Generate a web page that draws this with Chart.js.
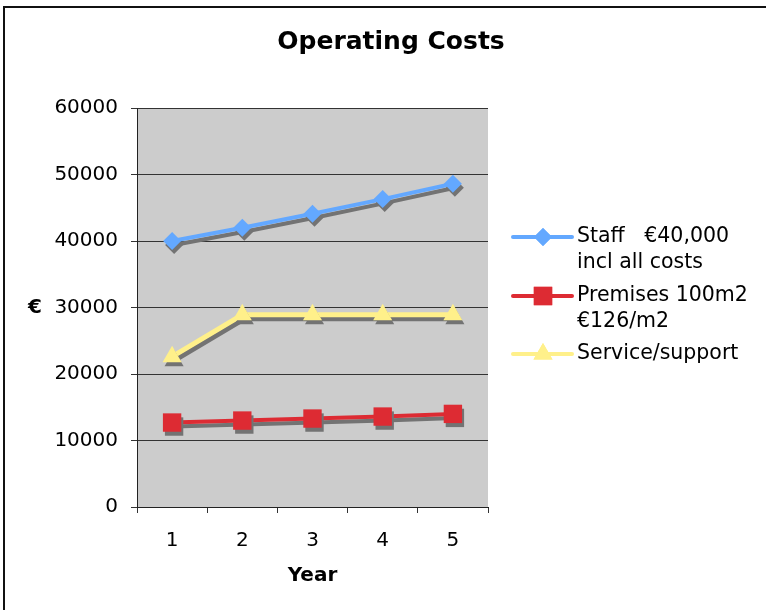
<!DOCTYPE html>
<html>
<head>
<meta charset="utf-8">
<title>Operating Costs</title>
<script src="https://cdn.jsdelivr.net/npm/chart.js@4/dist/chart.umd.min.js"></script>
<style>
  html, body { margin: 0; padding: 0; background: #fff; overflow: hidden; }
  #frame {
    position: absolute; left: 3px; top: 6px; width: 900px; height: 800px;
    border-left: 2px solid #111; border-top: 2px solid #111;
  }
  #chartBox { position: absolute; left: 0; top: 0; width: 766px; height: 610px; }
</style>
</head>
<body>
<div id="frame"></div>
<div id="chartBox"><canvas id="costChart" width="766" height="610"></canvas></div>
<script>
// Chart data
const years = ['1', '2', '3', '4', '5'];
const staffCosts = [40000, 42000, 44100, 46300, 48600];
const premisesCosts = [12700, 13000, 13300, 13600, 14000];
const serviceCosts = [22600, 28900, 28900, 28900, 28900];
const yTicks = [0, 10000, 20000, 30000, 40000, 50000, 60000];
const chartTitle = 'Operating Costs';
const legendLines = [
    ['Staff   €40,000', 'incl all costs'],
    ['Premises 100m2', '€126/m2'],
    ['Service/support']
];

const FONT = "'DejaVu Sans', Verdana, sans-serif";

// grey plot area behind everything
const plotBackground = {
    id: 'plotBackground',
    beforeDraw(chart) {
        const { ctx, chartArea } = chart;
        ctx.save();
        ctx.fillStyle = '#cccccc';
        ctx.fillRect(chartArea.left, chartArea.top, chartArea.right - chartArea.left, chartArea.bottom - chartArea.top);
        ctx.restore();
    }
};

// Excel style drop shadow under the series
const seriesShadow = {
    id: 'seriesShadow',
    beforeDatasetDraw(chart) {
        const ctx = chart.ctx;
        ctx.save();
        ctx.shadowColor = 'rgba(115, 115, 115, 1)';
        ctx.shadowOffsetX = 2;
        ctx.shadowOffsetY = 4;
        ctx.shadowBlur = 0;
    },
    afterDatasetDraw(chart) {
        chart.ctx.restore();
    }
};

// title over the whole frame, legend with wrapped text, "€" axis label
const sideLegend = {
    id: 'sideLegend',
    afterDraw(chart) {
        const { ctx, chartArea } = chart;
        ctx.save();
        ctx.fillStyle = '#000';
        ctx.textAlign = 'center';
        ctx.textBaseline = 'middle';
        ctx.font = 'bold 25px ' + FONT;
        ctx.fillText(chartTitle, 391, 42);

        ctx.font = 'bold 20px ' + FONT;
        ctx.fillText('€', 35, (chartArea.top + chartArea.bottom) / 2);

        const x0 = chartArea.right + 25;
        const itemY = [chartArea.top + 129, chartArea.top + 188, chartArea.top + 246];
        chart.data.datasets.forEach((ds, i) => {
            const y = itemY[i];
            ctx.strokeStyle = ds.borderColor;
            ctx.lineWidth = 4;
            ctx.lineCap = 'round';
            ctx.beginPath();
            ctx.moveTo(x0, y);
            ctx.lineTo(x0 + 59, y);
            ctx.stroke();
            ctx.fillStyle = ds.pointBackgroundColor;
            Chart.helpers.drawPoint(ctx, {
                pointStyle: ds.pointStyle, radius: ds.pointRadius, rotation: 0, borderWidth: 0
            }, x0 + 30, y);
            ctx.fill();

            ctx.fillStyle = '#000';
            ctx.font = '20.5px ' + FONT;
            ctx.textAlign = 'left';
            ctx.textBaseline = 'middle';
            legendLines[i].forEach((line, k) => {
                ctx.fillText(line, x0 + 64, y + k * 26);
            });
        });
        ctx.restore();
    }
};

const ctx = document.getElementById('costChart').getContext('2d');
new Chart(ctx, {
    type: 'line',
    data: {
        labels: years,
        datasets: [
            {
                label: legendLines[0].join(' '),
                data: staffCosts,
                borderColor: '#63a8ff',
                backgroundColor: '#63a8ff',
                pointBackgroundColor: '#63a8ff',
                borderWidth: 4,
                pointStyle: 'rectRot',
                pointRadius: 9,
                pointBorderWidth: 0,
                tension: 0
            },
            {
                label: legendLines[1].join(' '),
                data: premisesCosts,
                borderColor: '#dd2b33',
                backgroundColor: '#dd2b33',
                pointBackgroundColor: '#dd2b33',
                borderWidth: 4,
                pointStyle: 'rect',
                pointRadius: 13,
                pointBorderWidth: 0,
                tension: 0
            },
            {
                label: legendLines[2].join(' '),
                data: serviceCosts,
                borderColor: '#fff08a',
                backgroundColor: '#fff08a',
                pointBackgroundColor: '#fff08a',
                borderWidth: 5,
                pointStyle: 'triangle',
                pointRadius: 11,
                pointBorderWidth: 0,
                tension: 0
            }
        ]
    },
    options: {
        responsive: false,
        animation: false,
        layout: { padding: { left: 0, right: 278, top: 108, bottom: 0 } },
        plugins: {
            legend: { display: false },
            tooltip: { enabled: false },
            title: { display: false }
        },
        scales: {
            x: {
                offset: true,
                afterFit(scale) { scale.height = 103; },
                grid: {
                    offset: true,
                    drawOnChartArea: false,
                    drawTicks: true,
                    tickLength: 6,
                    color: '#333'
                },
                border: { color: '#222', width: 1 },
                ticks: { color: '#000', padding: 16, font: { family: FONT, size: 20 } },
                title: {
                    display: true,
                    text: 'Year',
                    color: '#000',
                    font: { family: FONT, size: 20, weight: 'bold' },
                    padding: { top: 0, bottom: 22 }
                }
            },
            y: {
                min: yTicks[0],
                max: yTicks[yTicks.length - 1],
                afterFit(scale) { scale.width = 137; },
                afterBuildTicks(scale) { scale.ticks = yTicks.map(v => ({ value: v })); },
                grid: { color: '#333', lineWidth: 1, tickLength: 6 },
                border: { color: '#222', width: 1 },
                ticks: {
                    color: '#000',
                    padding: 13,
                    font: { family: FONT, size: 20 },
                    callback: value => String(value)
                }
            }
        }
    },
    plugins: [plotBackground, seriesShadow, sideLegend]
});
</script>
</body>
</html>
